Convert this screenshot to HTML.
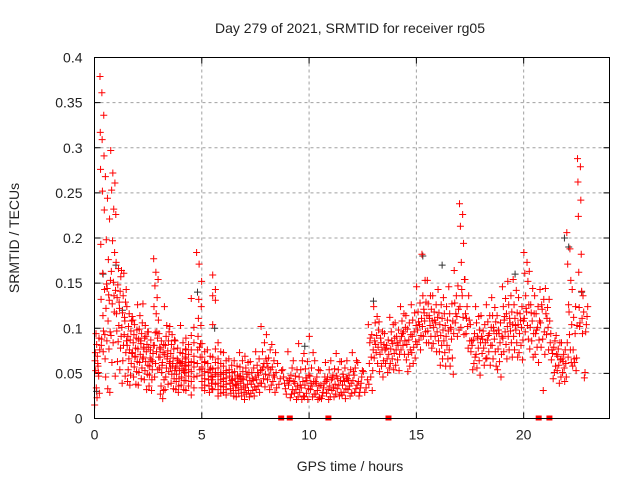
<!DOCTYPE html>
<html><head><meta charset="utf-8"><style>
body{margin:0;background:#fff;}
svg text{font-family:"Liberation Sans",sans-serif;font-size:14px;fill:#222;}
</style></head><body>
<svg id="chart" width="640" height="480" viewBox="0 0 640 480" xmlns="http://www.w3.org/2000/svg">
<rect width="640" height="480" fill="#fff"/>
<text x="350" y="33" text-anchor="middle">Day 279 of 2021, SRMTID for receiver rg05</text>
<text x="350" y="471" text-anchor="middle">GPS time / hours</text>
<text transform="translate(19,238) rotate(-90)" text-anchor="middle">SRMTID / TECUs</text>
<g id="grid"></g>
<g id="ticks"></g>
<g id="marks"></g>
<rect x="94.5" y="57.5" width="515" height="361" fill="none" stroke="#000" stroke-width="1"/>
</svg>
<script>
const xTicks=[0,5,10,15,20];
const yTicks=[0,0.05,0.1,0.15,0.2,0.25,0.3,0.35,0.4];
const yTickLabels=["0","0.05","0.1","0.15","0.2","0.25","0.3","0.35","0.4"];
const binWidth=0.25;
const binStarts=[0,0.25,0.5,0.75,1,1.25,1.5,1.75,2,2.25,2.5,2.75,3,3.25,3.5,3.75,4,4.25,4.5,4.75,5,5.25,5.5,5.75,6,6.25,6.5,6.75,7,7.25,7.5,7.75,8,8.25,8.5,8.75,9,9.25,9.5,9.75,10,10.25,10.5,10.75,11,11.25,11.5,11.75,12,12.25,12.5,12.75,13,13.25,13.5,13.75,14,14.25,14.5,14.75,15,15.25,15.5,15.75,16,16.25,16.5,16.75,17,17.25,17.5,17.75,18,18.25,18.5,18.75,19,19.25,19.5,19.75,20,20.25,20.5,20.75,21,21.25,21.5,21.75,22,22.25,22.5,22.75];
const binValues=[
[1.5,2.3,2.8,3.4,4.7,5.3,5.8,6.4,6.9,7.6,8.2,8.9,9.4,5.1,7.3,6.1],
[37.9,36.1,33.6,31.7,30.9,29.1,27.6,25.2,23.1,19.3,16.1,14.3,13.2,11.4,9.3,8.1,7.4,6.6,8.8,9.7],
[26.8,24.4,22.1,19.8,17.6,15.3,14.4,13.1,12.2,10.8,9.6,8.6,7.7,4.6,3.3,2.9,14.9,13.7],
[29.7,27.2,26.1,25.3,23.2,22.6,19.7,18.4,16.3,15.1,14.2,12.7,11.8,9.2,8.4,4.7,6.2,13.6],
[17.3,16.6,15.7,14.8,14.1,13.4,12.2,11.6,10.3,9.1,8.5,7.8,6.3,5.4,9.7,12.9],
[16.4,16.1,14.3,13.6,12.9,11.7,10.8,10.1,9.3,8.6,8.1,7.3,6.4,4.7,3.9,11.2],
[12.4,11.6,10.8,10.2,9.7,9.1,8.7,8.1,7.6,7.2,6.6,6.1,5.4,4.8,4.1,3.7],
[11.3,10.4,9.8,9.3,8.9,8.4,7.8,7.3,6.8,6.3,5.7,5.2,4.6,3.8,10.9,6.9],
[12.6,11.4,10.6,9.9,9.4,8.8,8.3,7.7,7.1,6.6,6.2,5.6,5.1,4.4,3.7,8.6],
[12.7,10.3,9.6,8.9,8.2,7.7,7.4,6.8,6.3,5.9,5.3,4.9,4.3,3.2,7.9,9.1],
[9.6,8.7,8.1,7.6,7.2,6.7,6.3,5.8,5.4,4.8,4.3,3.6,3.1,7.9,6.5],
[17.7,16.2,15.4,14.7,13.4,12.4,11.6,10.9,9.5,8.9,8.1,7.4,6.8,6.1,5.4,4.6,9.6],
[9.4,8.6,8.2,7.7,7.3,6.8,6.2,5.6,5.1,4.3,3.6,3.1,2.7,2.2,7.9,5.9],
[12.4,10.3,9.6,9.1,8.6,8.1,7.5,7.1,6.6,6.1,5.6,5.2,4.6,3.8,3.2,6.9],
[10.2,9.3,8.7,8.2,7.7,7.2,6.7,6.3,5.8,5.3,4.9,4.4,3.9,3.3,5.6,6.1],
[8.6,7.8,7.3,6.6,6.2,5.8,5.3,4.9,4.4,4.1,3.6,3.2,2.9,5.6,6.4],
[10.3,8.4,7.7,7.2,6.8,6.3,5.9,5.5,5.1,4.6,4.2,3.7,3.2,6.1,5.3],
[8.9,8.2,7.6,7.1,6.6,6.2,5.8,5.4,5.1,4.7,4.2,3.6,3.1,5.9],
[13.3,10.1,9.2,8.4,7.6,6.9,6.3,5.7,5.2,4.6,4.1,3.4,2.6,6.2],
[18.4,17.1,15.2,13.2,12.4,11.1,10.3,9.1,8.3,7.6,6.8,6.1,5.4,4.7,7.9],
[8.3,7.4,6.8,6.2,5.7,5.2,4.8,4.4,4.1,3.7,3.4,3.1,5.5,6.3],
[7.6,6.9,6.1,5.6,5.1,4.7,4.3,3.9,3.6,3.3,2.9,4.6,5.4],
[15.9,14.3,13.6,13.1,10.4,7.7,6.8,6.2,5.5,4.9,4.3,3.8,3.2,5.1],
[8.4,7.4,6.6,6.1,5.6,5.1,4.7,4.3,3.9,3.6,3.2,2.8,2.5,4.9],
[7.3,6.4,5.8,5.3,4.9,4.5,4.1,3.8,3.5,3.2,2.9,2.6,4.4,5.1],
[6.6,5.9,5.4,5.1,4.7,4.3,3.9,3.6,3.3,3.1,2.8,2.5,4.2],
[6.4,5.8,5.2,4.8,4.4,4.1,3.8,3.4,3.1,2.8,2.4,4.6,3.7],
[7.3,6.4,5.7,5.2,4.7,4.3,3.9,3.6,3.2,2.9,2.5,2.1,4.4],
[6.9,6.2,5.6,5.1,4.6,4.2,3.8,3.4,3.1,2.7,2.4,4.9],
[6.3,5.6,5.1,4.6,4.2,3.8,3.5,3.1,2.8,2.5,4.4],
[7.4,6.6,5.9,5.3,4.8,4.3,3.9,3.6,3.2,2.9,5.1],
[10.2,8.4,7.4,6.6,6.1,5.4,4.9,4.4,3.9,3.5,5.7],
[9.3,7.6,6.7,6.1,5.4,4.8,4.3,3.7,3.2,5.6],
[8.2,7.3,6.4,5.7,5.1,4.6,4.1,3.4,2.9,4.8],
[6.1,5.3,4.4,3.8],
[5.4,4.6,3.9,3.3,2.7,4.2],
[7.4,5.6,4.8,4.2,3.7,3.2,2.7,2.3,4.4],
[6.4,5.4,4.7,4.1,3.6,3.2,2.8,2.4,2.1,3.9],
[8.3,6.4,5.4,4.6,4.1,3.4,2.9,2.5,2.1,3.7],
[7.2,6.3,5.5,4.8,4.2,3.7,3.3,2.8,2.4,2.1,4.5],
[9.1,7.3,5.6,4.7,4.1,3.6,3.2,2.7,2.4,3.9],
[6.4,5.4,4.6,4.1,3.6,3.1,2.7,2.3,2.1,3.9],
[5.3,4.6,3.9,3.4,2.9,2.5,2.2,3.7],
[6.2,5.4,4.6,4.1,3.6,3.2,2.8,2.4,2.1,4.3],
[6.4,5.5,4.8,4.3,3.8,3.4,3.1,2.7,2.4,4.5],
[7.2,6.3,5.4,4.7,4.2,3.7,3.3,2.9,2.5,4.4],
[6.3,5.6,4.9,4.4,4.1,3.7,3.3,2.9,2.6,2.2,4.6],
[6.4,5.4,4.8,4.4,3.9,3.6,3.2,2.8,2.5,4.2],
[7.3,6.4,5.6,4.8,4.2,3.7,3.3,2.9,5.2],
[6.2,5.3,4.6,3.9,3.4,2.9,2.5,4.1],
[5.2,4.3,3.4,2.9],
[10.4,9.3,8.4,7.6,6.8,6.1,5.3,4.6,3.8,3.1,8.9],
[12.4,11.3,10.6,9.8,9.2,8.6,7.9,7.3,6.7,6.1,8.2],
[10.7,9.6,8.9,8.2,7.6,7.1,6.4,5.8,5.2,4.6,8.4],
[9.4,8.7,8.1,7.6,7.1,6.6,6.1,5.6,5.1,7.8],
[11.2,10.4,9.6,8.9,8.3,7.7,7.2,6.6,6.1,5.4,8.6],
[10.6,9.8,9.1,8.6,8.1,7.6,7.1,6.5,5.9,5.3,8.4],
[12.4,11.6,10.8,10.1,9.6,9.1,8.6,8.1,7.6,7.1,9.4],
[11.4,10.6,9.9,9.3,8.7,8.2,7.6,7.1,6.5,5.8,5.2],
[12.6,11.7,10.9,10.3,9.6,9.1,8.5,7.9,7.3,6.7,6.1],
[14.6,12.8,11.8,11.1,10.4,9.8,9.2,8.7,8.2,7.6,10.7],
[18.2,15.3,13.6,12.9,12.1,11.4,10.8,10.2,9.6,9.1,8.4,11.7],
[15.3,13.6,12.7,12.1,11.4,10.8,10.3,9.7,9.1,8.4,7.8,11.1],
[13.6,12.6,11.8,11.2,10.6,10.1,9.6,9.1,8.3,7.4,10.9],
[14.3,12.6,11.7,11.1,10.4,9.8,9.2,8.6,8.1,7.4,6.6,5.9],
[13.4,12.4,11.6,10.9,10.3,9.7,9.1,8.6,8.1,7.3,6.6,5.8],
[14.6,12.7,11.6,10.8,10.1,9.4,8.8,7.6,6.7,5.8,4.9,9.9],
[16.4,14.7,13.6,12.8,12.1,11.3,10.6,9.8,9.1,11.6],
[23.8,22.6,21.3,19.4,17.3,15.4,13.6,12.4,11.2,10.1,9.3,14.3],
[15.4,13.6,12.4,11.6,10.9,10.2,9.4,8.6,7.8,11.1],
[10.4,9.4,8.7,8.1,7.4,6.8,6.1,5.4,8.6],
[12.4,11.3,10.6,9.8,9.1,8.4,7.8,7.1,6.4,5.6,4.8,8.9],
[11.4,10.4,9.7,9.1,8.4,7.8,7.2,6.6,5.9,8.8],
[12.6,11.4,10.7,10.1,9.4,8.7,8.1,7.4,6.7,5.9,9.2],
[13.4,12.3,11.4,10.7,10.1,9.4,8.8,8.1,7.4,6.6,5.8,9.7],
[11.4,10.6,9.8,9.1,8.4,7.7,7.1,6.3,5.4,4.6,9.4],
[14.6,13.3,12.4,11.6,10.9,10.2,9.6,8.9,8.2,7.4,6.6,11.3],
[15.2,13.6,12.6,11.8,11.1,10.4,9.7,9.1,8.4,7.6,6.8,10.6],
[15.4,14.2,12.6,11.7,11.1,10.4,9.8,9.1,8.4,7.6,6.8,10.3],
[13.4,12.4,11.6,10.8,10.1,9.4,8.7,8.1,7.3,6.5,10.9],
[18.4,17.3,16.1,15.2,13.6,12.6,11.8,11.1,10.3,9.6,8.8,12.2],
[16.3,14.4,12.6,11.6,10.8,10.1,9.4,8.6,7.7,6.8,11.7],
[13.6,12.4,11.6,10.8,10.1,9.4,8.7,7.9,7.1,6.2,9.8],
[14.3,13.2,12.1,10.6,9.6,8.8,7.9,7.1,3.1,12.6],
[14.4,13.2,12.3,11.6,10.8,10.1,9.3,8.4,7.6,11.1],
[9.4,8.6,7.9,7.2,6.5,5.8,5.1,4.4,7.6],
[9.2,8.4,7.7,7.1,6.5,5.9,5.3,4.6,3.9,6.9],
[8.4,7.6,7.1,6.6,6.1,5.6,5.1,4.6,4.1,6.3],
[20.6,18.8,17.1,15.3,12.6,10.4,9.3,8.4,7.6,6.8,6.2,11.8],
[14.3,12.4,11.2,10.3,9.4,7.6,6.7,6.2,5.8,5.3,6.6],
[28.8,27.9,26.2,24.2,22.4,18.2,16.2,14.1,12.3,11.1,10.2,9.4,10.6],
[13.6,12.4,11.3,10.4,9.6,5.1,4.5,11.8]
];
const valueScale=0.01;
const grayTimes=[0.1,0.4,1.0,1.3,4.8,5.6,9.8,13.0,15.3,16.2,19.6,21.9,22.1,22.7];
const grayValues=[0.03,0.16,0.17,0.12,0.14,0.10,0.08,0.13,0.18,0.17,0.16,0.20,0.19,0.14];
const gapTimes=[8.7,9.1,10.9,13.7,20.7,21.2];

const X0=94.5,X1=609.5,Y0=418.5,Y1=57.5,XMAX=24,YMAX=0.4;
const xs=t=>X0+(X1-X0)*t/XMAX;
const ys=v=>Y0-(Y0-Y1)*v/YMAX;
const NS="http://www.w3.org/2000/svg";
function mk(tag,attrs,parent){const e=document.createElementNS(NS,tag);for(const k in attrs)e.setAttribute(k,attrs[k]);parent.appendChild(e);return e;}
const grid=document.getElementById('grid'),ticks=document.getElementById('ticks'),marks=document.getElementById('marks');
xTicks.forEach(t=>{
  const x=xs(t);
  if(t>0){const g=mk('line',{x1:x,x2:x,y1:Y1,y2:Y0,stroke:'#a0a0a0','stroke-dasharray':'3,3'},grid);
  
  }
  mk('line',{x1:x,x2:x,y1:Y0,y2:Y0-6,stroke:'#000'},ticks);
  mk('line',{x1:x,x2:x,y1:Y1,y2:Y1+6,stroke:'#000'},ticks);
  const tx=mk('text',{x:x,y:Y0+21,'text-anchor':'middle'},ticks);tx.textContent=t;
  
  
});
yTicks.forEach((v,i)=>{
  const y=ys(v);
  if(v>0&&v<YMAX){const g=mk('line',{x1:X0,x2:X1,y1:y,y2:y,stroke:'#a0a0a0','stroke-dasharray':'3,3'},grid);
  
  }
  mk('line',{x1:X0,x2:X0+6,y1:y,y2:y,stroke:'#000'},ticks);
  mk('line',{x1:X1,x2:X1-6,y1:y,y2:y,stroke:'#000'},ticks);
  const tx=mk('text',{x:X0-12,y:y+5,'text-anchor':'end'},ticks);tx.textContent=yTickLabels[i];
  
  
});
function plus(x,y,color,name){
  const p=mk('path',{d:`M${x-3.5},${y}h7M${x},${y-3.5}v7`,stroke:color,'stroke-width':1,fill:'none'},marks);
  
  
}
grayTimes.forEach((t,i)=>plus(xs(t),ys(grayValues[i]),'#333','gray-point'));
binStarts.forEach((b,i)=>{
  const vals=binValues[i];const n=vals.length;
  vals.forEach((v,j)=>{
    const t=b+binWidth*((j*7)%n+0.5)/n;
    plus(xs(t),ys(v*valueScale),'#f00','srmtid-point');
  });
});
gapTimes.forEach(t=>{
  const r=mk('rect',{x:xs(t)-3,y:Y0-3,width:6,height:5,fill:'#f00'},marks);
  
  
});
</script>
</body></html>
